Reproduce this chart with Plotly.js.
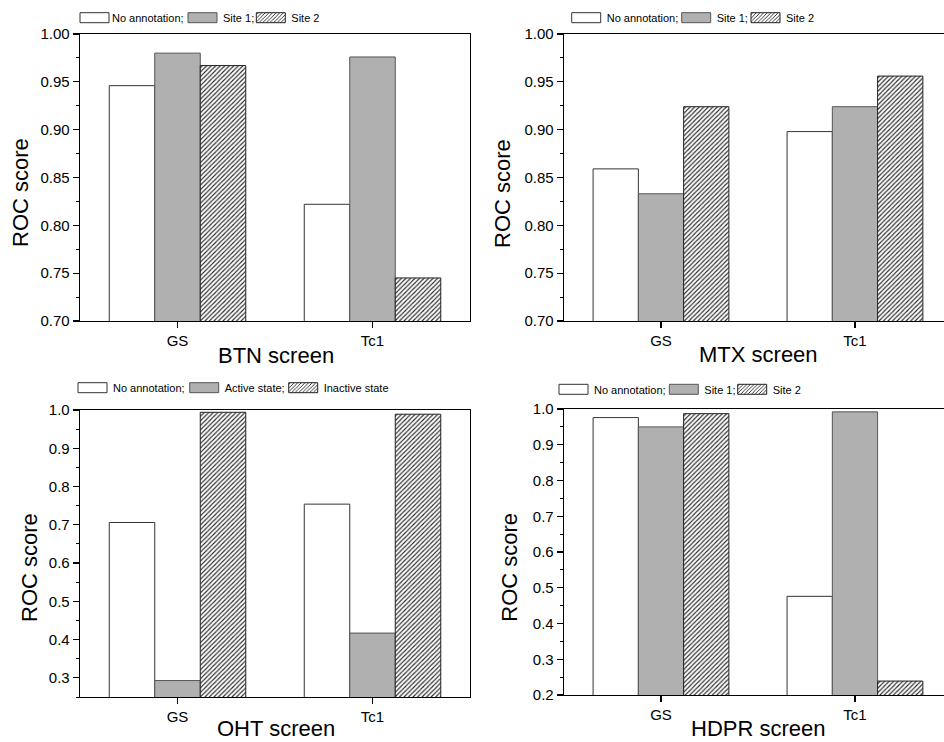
<!DOCTYPE html>
<html>
<head>
<meta charset="utf-8">
<script src="https://cdn.plot.ly/plotly-3.0.1.min.js"></script>
<style>
html,body{margin:0;padding:0;background:#fff;overflow:hidden;}
#chart{width:944px;height:742px;}
</style>
</head>
<body>
<div id="chart"></div>
<script>
// ---- data ----
const categories = ['GS', 'Tc1'];

const btnNoAnnotation = [0.946, 0.822];
const btnSite1 = [0.980, 0.976];
const btnSite2 = [0.967, 0.745];

const mtxNoAnnotation = [0.859, 0.898];
const mtxSite1 = [0.833, 0.924];
const mtxSite2 = [0.924, 0.956];

const ohtNoAnnotation = [0.706, 0.754];
const ohtActive = [0.293, 0.417];
const ohtInactive = [0.994, 0.989];

const hdprNoAnnotation = [0.976, 0.476];
const hdprSite1 = [0.950, 0.992];
const hdprSite2 = [0.987, 0.239];

const panelTitles = ['BTN screen', 'MTX screen', 'OHT screen', 'HDPR screen'];
const yTitle = 'ROC score';
const seriesNames = [
  ['No annotation;', 'Site 1;', 'Site 2'],
  ['No annotation;', 'Site 1;', 'Site 2'],
  ['No annotation;', 'Active state;', 'Inactive state'],
  ['No annotation;', 'Site 1;', 'Site 2']
];
const panelValues = [
  [btnNoAnnotation, btnSite1, btnSite2],
  [mtxNoAnnotation, mtxSite1, mtxSite2],
  [ohtNoAnnotation, ohtActive, ohtInactive],
  [hdprNoAnnotation, hdprSite1, hdprSite2]
];

// ---- styles ----
const W = 944, H = 742;
const FONT = 'Arial, "Liberation Sans", sans-serif';
const styles = [
  {color: '#ffffff', line: '#333333', pattern: null},
  {color: '#b0b0b0', line: '#555555', pattern: null},
  {color: '#ffffff', line: '#222222', pattern: {shape: '/', size: 3.2, solidity: 0.35, fgcolor: '#222222', bgcolor: '#ffffff', fillmode: 'replace'}}
];

// panel geometry in pixels; legendTx = left x of each legend label text
const panels = [
  {x0: 80, x1: 470, yTop: 34, yBot: 321, xr: [-0.5, 1.5], yr: [0.70, 1.00], dt: 0.05, fmt: '.2f', mirrorY: true,
   legendTx: [114, 225, 293.3], legendCy: 17.7, xt: [276, 355, 'middle'], yt: [21, 193]},
  {x0: 564, x1: 944, yTop: 34, yBot: 321, xr: [-0.5, 1.459], yr: [0.70, 1.00], dt: 0.05, fmt: '.2f', mirrorY: false,
   legendTx: [608.7, 718.7, 788], legendCy: 17.7, xt: [758.7, 354.7, 'middle'], yt: [503, 193]},
  {x0: 80, x1: 470, yTop: 410, yBot: 697, xr: [-0.5, 1.5], yr: [0.25, 1.00], dt: 0.1, fmt: '.1f', mirrorY: true,
   legendTx: [115, 226.7, 325.7], legendCy: 387.7, xt: [275.7, 742, 'bottom'], yt: [29, 568]},
  {x0: 564, x1: 944, yTop: 409, yBot: 695, xr: [-0.5, 1.459], yr: [0.20, 1.00], dt: 0.1, fmt: '.1f', mirrorY: false,
   legendTx: [596, 706.3, 774.7], legendCy: 389.3, xt: [757.8, 742, 'bottom'], yt: [508.7, 567]}
];

const traces = [];
const annotations = [];
const layout = {
  width: W, height: H,
  margin: {l: 0, r: 0, t: 0, b: 0},
  paper_bgcolor: '#ffffff', plot_bgcolor: '#ffffff',
  font: {family: FONT, color: '#000000'},
  barmode: 'group', bargap: 0.3, bargroupgap: 0,
  showlegend: true,
  annotations: annotations
};

let legendIdx = 1;
panels.forEach((p, i) => {
  const n = i + 1;
  const xa = 'xaxis' + (n === 1 ? '' : n);
  const ya = 'yaxis' + (n === 1 ? '' : n);
  const xr = 'x' + (n === 1 ? '' : n);
  const yr = 'y' + (n === 1 ? '' : n);
  layout[xa] = {
    domain: [p.x0 / W, p.x1 / W], anchor: yr, type: 'category', range: p.xr,
    showline: true, linecolor: '#000', linewidth: 1.3, mirror: true,
    ticks: 'outside', ticklen: 6, tickwidth: 1.2, tickcolor: '#000',
    tickfont: {size: 15, family: FONT, color: '#000'},
    showgrid: false, zeroline: false, fixedrange: true
  };
  layout[ya] = {
    domain: [1 - p.yBot / H, 1 - p.yTop / H], anchor: xr, range: p.yr,
    showline: true, linecolor: '#000', linewidth: 1.3, mirror: p.mirrorY,
    ticks: 'outside', ticklen: 6, tickwidth: 1.2, tickcolor: '#000',
    dtick: p.dt, tick0: 0, tickformat: p.fmt,
    minor: {ticks: 'outside', ticklen: 3, dtick: p.dt / 2, tickcolor: '#000', tickwidth: 1},
    tickfont: {size: 15, family: FONT, color: '#000'},
    showgrid: false, zeroline: false, fixedrange: true
  };
  annotations.push({
    text: panelTitles[i], xref: 'paper', yref: 'paper',
    x: p.xt[0] / W, y: 1 - p.xt[1] / H, xanchor: 'center', yanchor: p.xt[2],
    showarrow: false, borderpad: 0, font: {size: 22, family: FONT, color: '#000'}
  });
  annotations.push({
    text: yTitle, xref: 'paper', yref: 'paper', textangle: -90,
    x: p.yt[0] / W, y: 1 - p.yt[1] / H, xanchor: 'center', yanchor: 'middle',
    showarrow: false, font: {size: 22, family: FONT, color: '#000'}
  });
  panelValues[i].forEach((vals, k) => {
    const st = styles[k];
    const lg = 'legend' + (legendIdx === 1 ? '' : legendIdx);
    const marker = {color: st.color, line: {color: st.line, width: 1}};
    if (st.pattern) marker.pattern = st.pattern;
    traces.push({
      type: 'bar', x: categories, y: vals, name: seriesNames[i][k],
      xaxis: xr, yaxis: yr, marker: marker, legend: lg, hoverinfo: 'skip'
    });
    layout[lg] = {
      x: (p.legendTx[k] - 42) / W, y: 1 - p.legendCy / H,
      xanchor: 'left', yanchor: 'middle', orientation: 'h',
      bgcolor: 'rgba(0,0,0,0)', borderwidth: 0, itemwidth: 30,
      font: {size: 11, family: FONT, color: '#000'}
    };
    legendIdx++;
  });
});

const gd = document.getElementById('chart');

// wide swatch boxes as in the reference, placed just left of each label
function widenSwatches() {
  gd.querySelectorAll('.legendpoints path').forEach(pth => {
    let d = 'M14,5H-15V-5H14Z';
    try {
      const item = pth.closest('g.traces');
      const txt = item && item.querySelector('text.legendtext');
      const ctm = pth.getScreenCTM();
      if (txt && ctm) {
        const L = txt.getBoundingClientRect().left;
        const a = L - 32 - ctm.e, b = L - 3 - ctm.e;
        if (isFinite(a) && isFinite(b) && Math.abs(a) < 60 && Math.abs(b) < 60) {
          d = 'M' + b.toFixed(1) + ',5H' + a.toFixed(1) + 'V-5H' + b.toFixed(1) + 'Z';
        }
      }
    } catch (e) { /* keep default wide box */ }
    if (pth.getAttribute('d') !== d) pth.setAttribute('d', d);
  });
}

Plotly.newPlot(gd, traces, layout, {staticPlot: true, displayModeBar: false}).then(() => {
  widenSwatches();
  if (gd.on) gd.on('plotly_afterplot', widenSwatches);
  [50, 300, 1000].forEach(ms => setTimeout(widenSwatches, ms));
});
</script>
</body>
</html>
